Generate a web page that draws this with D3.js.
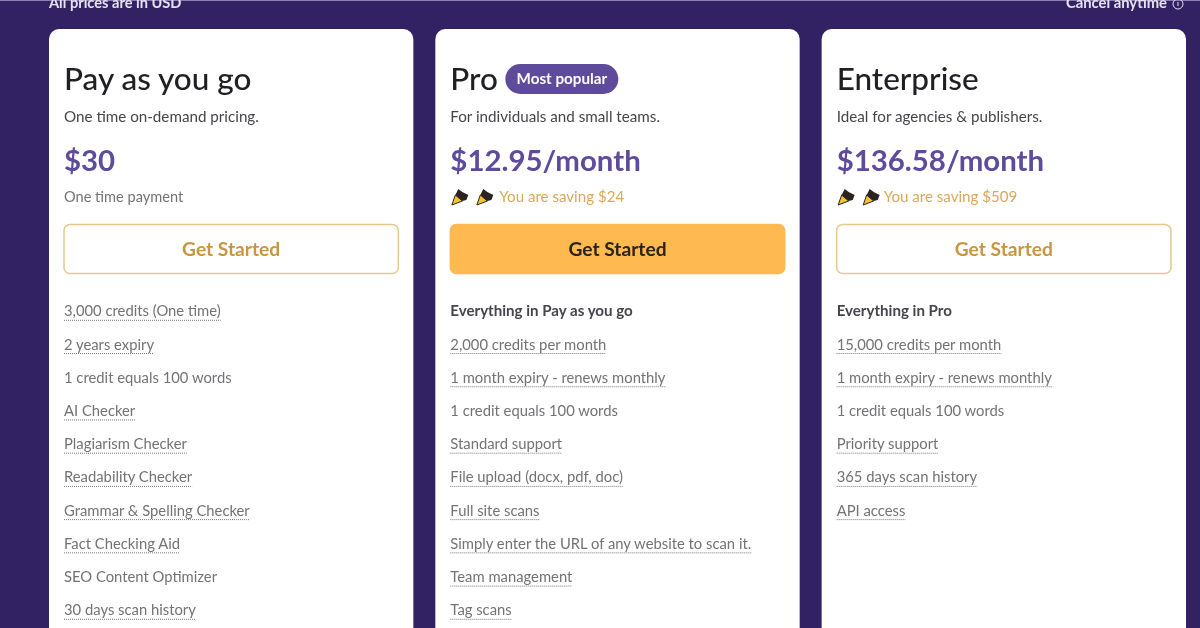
<!DOCTYPE html>
<html>
<head>
<meta charset="utf-8">
<script src="https://cdn.jsdelivr.net/npm/d3@7"></script>
<style>
  html, body { margin: 0; padding: 0; background: #332263; overflow: hidden; }
  svg { display: block; filter: blur(0.5px); }
  text { font-family: "Lato", sans-serif; }
</style>
</head>
<body>
<div id="wrapper"></div>
<script>
// plan data
const plans = ["Pay as you go", "Pro", "Enterprise"]
const taglines = ["One time on-demand pricing.", "For individuals and small teams.", "Ideal for agencies & publishers."]
const prices = ["$30", "$12.95/month", "$136.58/month"]
const notes = ["One time payment", "You are saving $24", "You are saving $509"]
const featuresPayg = [
  "3,000 credits (One time)", "2 years expiry", "1 credit equals 100 words", "AI Checker",
  "Plagiarism Checker", "Readability Checker", "Grammar & Spelling Checker", "Fact Checking Aid",
  "SEO Content Optimizer", "30 days scan history"
]
const featuresPro = [
  "Everything in Pay as you go", "2,000 credits per month", "1 month expiry - renews monthly",
  "1 credit equals 100 words", "Standard support", "File upload (docx, pdf, doc)", "Full site scans",
  "Simply enter the URL of any website to scan it.", "Team management", "Tag scans"
]
const featuresEnterprise = [
  "Everything in Pro", "15,000 credits per month", "1 month expiry - renews monthly",
  "1 credit equals 100 words", "Priority support", "365 days scan history", "API access"
]
const features = [featuresPayg, featuresPro, featuresEnterprise]
// rows without the dotted underline
const plainFeatures = ["1 credit equals 100 words", "SEO Content Optimizer", "Everything in Pay as you go", "Everything in Pro"]
const headerFeatures = ["Everything in Pay as you go", "Everything in Pro"]

const width = 1200
const height = 628
const colors = { bg: "#332263", purple: "#5f4b9c", dark: "#1f1f24", amber: "#ffb951", amberText: "#c8963f", noteAmber: "#d9a85c", grey: "#737377", sub: "#45454b" }

const wrapper = d3.select("#wrapper").append("svg")
    .attr("width", width)
    .attr("height", height)

// scales
const xScale = d3.scaleBand()
    .domain(plans)
    .range([49, 1186])
    .paddingInner(22 / 386.5)

const rowScale = d3.scaleLinear()
    .domain([0, 9])
    .range([311.3, 610.3])

// top strip
wrapper.append("rect").attr("width", width).attr("height", 1).attr("fill", "#8a7fb0")
wrapper.append("text").attr("x", 49).attr("y", 8)
    .attr("fill", "#e6e2f2").attr("font-size", 14.6).attr("font-weight", 700)
    .text("All prices are in USD")
wrapper.append("text").attr("x", 1167).attr("y", 8).attr("text-anchor", "end")
    .attr("fill", "#e6e2f2").attr("font-size", 14.8).attr("font-weight", 700)
    .text("Cancel anytime")
wrapper.append("circle").attr("cx", 1178).attr("cy", 4).attr("r", 5)
    .attr("fill", "none").attr("stroke", "#e6e2f2").attr("stroke-width", 1)
wrapper.append("line").attr("x1", 1178).attr("x2", 1178).attr("y1", 2).attr("y2", 6)
    .attr("stroke", "#e6e2f2").attr("stroke-width", 1)

const cards = wrapper.selectAll(".card")
  .data(plans)
  .join("g")
    .attr("class", "card")
    .attr("transform", d => `translate(${xScale(d)},0)`)

cards.append("rect")
    .attr("y", 29)
    .attr("width", xScale.bandwidth())
    .attr("height", 640)
    .attr("rx", 10)
    .attr("fill", "#fff")

const pad = 15

cards.append("text")
    .attr("x", pad).attr("y", 90)
    .attr("fill", colors.dark).attr("font-size", 31.5).attr("font-weight", 500)
    .text(d => d)

cards.append("text")
    .attr("x", pad).attr("y", 122)
    .attr("fill", colors.sub).attr("font-size", 15.2)
    .text((d, i) => taglines[i])

cards.append("text")
    .attr("x", pad).attr("y", 171)
    .attr("fill", colors.purple).attr("font-size", 29.4).attr("font-weight", 700)
    .text((d, i) => prices[i])

// saving note, with the two little party poppers on paid plans
cards.append("text")
    .attr("x", (d, i) => i === 0 ? pad : (i === 1 ? 64 : 62))
    .attr("y", 202)
    .attr("fill", (d, i) => i === 0 ? colors.grey : colors.noteAmber)
    .attr("font-size", (d, i) => i === 0 ? 14.6 : 15.1)
    .text((d, i) => notes[i])

const popper = cards.filter((d, i) => i > 0).selectAll(".popper")
  .data([16, 41])
  .join("g")
    .attr("class", "popper")
    .attr("transform", d => `translate(${d},189)`)
popper.append("path")
    .attr("d", "M0.5 16 L4 6 L11 12 Z")
    .attr("fill", "#f2c230").attr("stroke", "#2a2320").attr("stroke-width", 1)
popper.append("path")
    .attr("d", "M4 6 L7 0 L11 3 L17 6 L15 11 L11 12 Z")
    .attr("fill", "#2a2320")

// "Most popular" pill
const pill = cards.filter(d => d === "Pro").append("g")
pill.append("rect")
    .attr("x", 70).attr("y", 64)
    .attr("width", 113).attr("height", 30).attr("rx", 15)
    .attr("fill", colors.purple)
pill.append("text")
    .attr("x", 126.5).attr("y", 84).attr("text-anchor", "middle")
    .attr("fill", "#fff").attr("font-size", 15.2).attr("font-weight", 700)
    .text("Most popular")

// buttons
cards.append("rect")
    .attr("x", pad).attr("y", 224.5)
    .attr("width", xScale.bandwidth() - 2 * pad).attr("height", 49)
    .attr("rx", 6)
    .attr("fill", d => d === "Pro" ? colors.amber : "#fff")
    .attr("stroke", d => d === "Pro" ? colors.amber : "#e6c88e")
    .attr("stroke-width", 1.5)

cards.append("text")
    .attr("x", xScale.bandwidth() / 2).attr("y", 256)
    .attr("text-anchor", "middle")
    .attr("fill", d => d === "Pro" ? "#2b2416" : colors.amberText)
    .attr("font-size", 19.2).attr("font-weight", 700)
    .text("Get Started")

// feature rows
const rows = cards.selectAll(".row")
  .data((d, i) => features[i].map((label, row) => ({ label, row })))
  .join("g")
    .attr("class", "row")
    .attr("transform", d => `translate(${pad},${rowScale(d.row)})`)

const rowLabels = rows.append("text")
    .attr("y", 5)
    .attr("fill", d => headerFeatures.includes(d.label) ? colors.sub : colors.grey)
    .attr("font-size", d => headerFeatures.includes(d.label) ? 15.1 : 14.8)
    .attr("font-weight", d => headerFeatures.includes(d.label) ? 700 : 400)
    .text(d => d.label)

rowLabels.each(function(d) {
  if (plainFeatures.includes(d.label)) return
  d3.select(this.parentNode).append("line")
      .attr("x1", 0).attr("x2", this.getComputedTextLength())
      .attr("y1", 9).attr("y2", 9)
      .attr("stroke", "#77777c").attr("stroke-width", 1)
      .attr("stroke-dasharray", "1 1")
})
</script>
</body>
</html>
